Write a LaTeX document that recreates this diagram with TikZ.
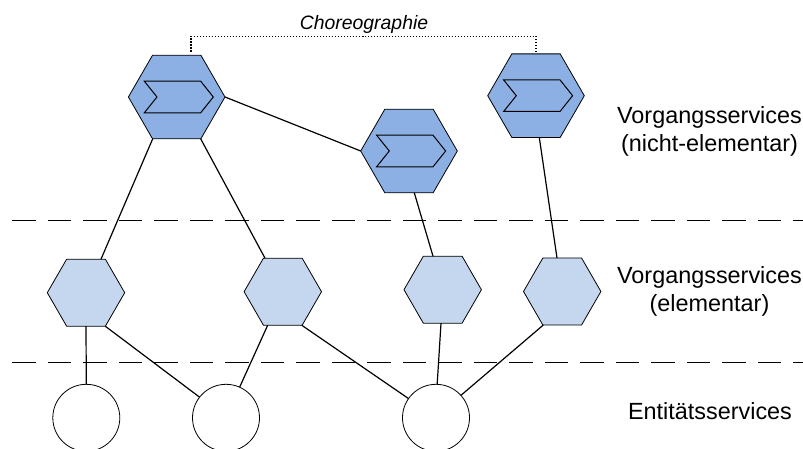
\documentclass[tikz,border=0pt]{standalone}
\usepackage{fontspec}
\setmainfont{Liberation Sans}
\usetikzlibrary{shapes.geometric}
\definecolor{dunkelblau}{HTML}{8CB0E3}
\definecolor{hellblau}{HTML}{C5D7EF}
\tikzset{
  hexa/.style={regular polygon, regular polygon sides=6,
    draw, inner sep=0pt, outer sep=0pt, line width=0.8pt},
  vorgang/.style={hexa, fill=dunkelblau, minimum size=96.6pt},
  elementar/.style={hexa, fill=hellblau, minimum size=77.4pt},
  entitaet/.style={circle, draw, fill=white, inner sep=0pt, outer sep=0pt,
    minimum size=67pt, line width=0.8pt},
  kante/.style={line width=1.2pt},
  trenner/.style={line width=1.4pt, dash pattern=on 23.3pt off 12.2pt},
  schrift/.style={align=center, font=\fontsize{23.4pt}{28pt}\selectfont}
}
% pfeil inside a service hexagon
\newcommand{\pfeil}[1]{
  \draw[line width=1pt]
    ([shift={(-32.4,-15.8)}]#1.center) --
    ([shift={(24,-15.8)}]#1.center) --
    ([shift={(36.6,0)}]#1.center) --
    ([shift={(24,15.8)}]#1.center) --
    ([shift={(-32.4,15.8)}]#1.center) --
    ([shift={(-19.7,0)}]#1.center) -- cycle;
}

\begin{document}
\begin{tikzpicture}[x=1pt,y=-1pt]
  \useasboundingbox (0,0) rectangle (803,449);
  \clip (0,0) rectangle (803,449);

  % trennlinien
  \coordinate (o1) at (12.4,220.5);
  \coordinate (o2) at (803,220.5);
  \coordinate (u1) at (12.4,362.5);
  \coordinate (u2) at (803,362.5);
  \draw[trenner] (o1) -- (o2);
  \draw[trenner] (u1) -- (u2);

  % nicht-elementar
  \node[vorgang] (v1) at (176.7,97) {};
  \node[vorgang] (v2) at (409,151) {};
  \node[vorgang] (v3) at (536,95.7) {};
  \pfeil{v1}
  \pfeil{v2}
  \pfeil{v3}

  % elementar
  \node[elementar] (e1) at (86,292.7) {};
  \node[elementar] (e2) at (282.8,291.7) {};
  \node[elementar] (e3) at (442.7,289.7) {};
  \node[elementar] (e4) at (562.2,291.5) {};

  % entitaeten
  \node[entitaet] (k1) at (86.3,417.8) {};
  \node[entitaet] (k2) at (226,417.8) {};
  \node[entitaet] (k3) at (436,417.8) {};

  \draw[kante] ([xshift=-24pt]v1.south) -- ([xshift=15pt]e1.north);
  \draw[kante] ([xshift=24pt]v1.south) -- ([xshift=-17.8pt]e2.north);
  \draw[kante] (v1.east) -- (v2.west);
  \draw[kante] ([xshift=5.3pt]v2.south) -- ([xshift=-9.7pt]e3.north);
  \draw[kante] ([xshift=3.3pt]v3.south) -- ([xshift=-5.2pt]e4.north);
  \draw[kante] (e1.south) -- (k1.north);
  \draw[kante] ([xshift=19.3pt]e1.south) -- (k2.142);
  \draw[kante] ([xshift=-15.1pt]e2.south) -- (k2.66);
  \draw[kante] ([xshift=18.9pt]e2.south) -- (k3.145);
  \draw[kante] ([xshift=-1.7pt]e3.south) -- (k3.88);
  \draw[kante] ([xshift=-18.9pt]e4.south) -- (k3.42);

  % choreographie
  \coordinate (dach) at (363,36.3);
  \coordinate (fuss) at ([shift={(14.3,-3.5)}]v1.north);
  \draw[line width=1.2pt, dash pattern=on 1.5pt off 1.5pt] (fuss) |- (dach) -| (v3.north);
  \node[font=\fontsize{19.4pt}{22pt}\itshape\selectfont] (choreo) at (364,24) {Choreographie};

  \node[schrift] (t1) at (709.5,131.5) {Vorgangsservices\\(nicht-elementar)};
  \node[schrift] (t2) at (709.5,291) {Vorgangsservices\\(elementar)};
  \node[schrift] (t3) at (710,411) {Entitätsservices};
\end{tikzpicture}
\end{document}
